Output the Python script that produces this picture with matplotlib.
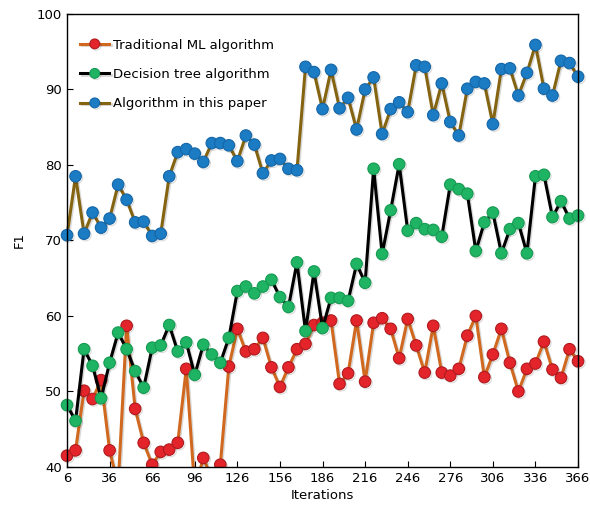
#!/usr/bin/env python3
"""
F1 score versus iterations for three algorithms.
"""

import matplotlib
matplotlib.use("Agg")
import matplotlib.pyplot as plt
import matplotlib.patheffects as pe
from matplotlib.patches import Rectangle

# x axis: every 6 iterations
iterations = list(range(6, 367, 6))

# values (points below 40 are clipped there)
traditional_ml = [41.5, 42.2, 50.1, 49.0, 51.5, 42.2, 37.5, 58.7, 47.7, 43.2,
                  40.3, 42.0, 42.3, 43.2, 53.0, 37.0, 41.2, 38.5, 40.3, 53.3,
                  58.3, 55.3, 55.6, 57.1, 53.2, 50.6, 53.2, 55.6, 56.3, 58.8,
                  59.1, 59.4, 51.0, 52.4, 59.4, 51.3, 59.1, 59.7, 58.3, 54.4,
                  59.6, 56.1, 52.5, 58.7, 52.5, 52.1, 53.0, 57.4, 60.0, 51.9,
                  54.9, 58.3, 53.8, 50.0, 53.0, 53.7, 56.6, 52.9, 51.8, 55.6,
                  54.0]

decision_tree = [48.2, 46.1, 55.6, 53.4, 49.1, 53.8, 57.8, 55.6, 52.7, 50.5,
                 55.8, 56.1, 58.8, 55.3, 56.5, 52.2, 56.2, 54.9, 53.8, 57.1,
                 63.3, 63.9, 63.0, 63.9, 64.8, 62.5, 61.2, 67.1, 58.0, 65.9,
                 58.4, 62.4, 62.4, 62.0, 66.9, 64.4, 79.5, 68.2, 74.0, 80.1,
                 71.3, 72.3, 71.5, 71.4, 70.5, 77.4, 76.8, 76.2, 68.6, 72.4,
                 73.7, 68.3, 71.5, 72.3, 68.3, 78.5, 78.7, 73.1, 75.2, 72.9,
                 73.3]

this_paper = [70.7, 78.5, 70.9, 73.7, 71.7, 72.9, 77.4, 75.4, 72.4, 72.5,
              70.6, 70.9, 78.5, 81.7, 82.1, 81.5, 80.4, 82.9, 82.9, 82.6,
              80.5, 83.9, 82.7, 78.9, 80.6, 80.8, 79.5, 79.3, 93.0, 92.3,
              87.4, 92.6, 87.5, 88.9, 84.7, 90.0, 91.6, 84.1, 87.4, 88.3,
              87.0, 93.2, 93.0, 86.6, 90.8, 85.7, 83.9, 90.1, 91.0, 90.8,
              85.4, 92.7, 92.8, 89.2, 92.2, 95.9, 90.1, 89.2, 93.8, 93.5,
              91.7]

x_ticks = list(range(6, 367, 30))
y_ticks = list(range(40, 101, 10))

series = [
    ("Traditional ML algorithm", traditional_ml, "#d0691f", "#e3242b", "#b01a1e"),
    ("Decision tree algorithm", decision_tree, "#000000", "#1fb463", "#159a52"),
    ("Algorithm in this paper", this_paper, "#846311", "#1b7cc4", "#1466a8"),
]

fig = plt.figure(figsize=(5.9, 5.18), dpi=100)
ax = fig.add_axes([0.1136, 0.0985, 0.8661, 0.8745])

# clip vertically at the axes but let the end markers overhang the sides
clip_box = Rectangle((-0.05, 0), 1.1, 1.05, transform=ax.transAxes,
                     facecolor="none", edgecolor="none")
ax.add_patch(clip_box)

shadow = [pe.SimpleLineShadow(offset=(1.0, -1.0), alpha=0.15), pe.Normal()]

for label, values, line_color, face, edge in series:
    line, = ax.plot(iterations, values, color=line_color, linewidth=2.2,
                    marker="o", markersize=8.3, markerfacecolor=face,
                    markeredgecolor=edge, markeredgewidth=0.8, label=label,
                    path_effects=shadow)
    line.set_clip_path(clip_box)

ax.set_xlim(6, 366)
ax.set_ylim(40, 100)
ax.set_xticks(x_ticks)
ax.set_yticks(y_ticks)
ax.tick_params(direction="in", labelsize=9.5, length=4, width=0.8)
for spine in ax.spines.values():
    spine.set_linewidth(1.0)

ax.set_xlabel("Iterations", fontsize=9.5, labelpad=3)
ax.set_ylabel("F1", fontsize=9.5, labelpad=8)

ax.legend(loc="upper left", frameon=False, fontsize=9.5, handlelength=2.2,
          labelspacing=1.25, borderaxespad=0.6, handletextpad=0.3,
          markerscale=0.85, bbox_to_anchor=(0.0, 0.975))

fig.savefig("out.png", dpi=100)
plt.close(fig)
